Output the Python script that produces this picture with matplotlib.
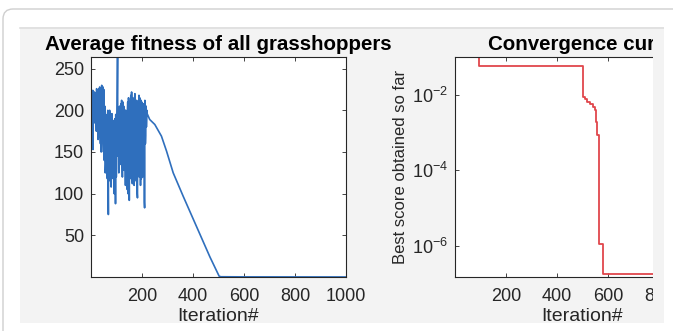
import matplotlib
matplotlib.use("Agg")
import matplotlib.pyplot as plt
import numpy as np
from matplotlib.patches import FancyBboxPatch, Rectangle
from matplotlib.ticker import NullLocator

plt.rcParams["font.family"] = ["Liberation Sans", "DejaVu Sans"]
plt.rcParams["mathtext.fontset"] = "custom"
plt.rcParams["mathtext.rm"] = "Liberation Sans"
plt.rcParams["mathtext.it"] = "Liberation Sans:italic"

W, H = 673, 331
AX_COLOR = "#262626"
BLUE = "#2f6fbd"
RED = "#e0474c"

# average fitness, noisy phase, odd iterations 1, 3, ... 221
fitness_odd = [
    125, 212, 198, 220, 153, 215, 205, 222, 196, 218, 190, 226, 180, 215, 165, 224,
    185, 228, 172, 221, 150, 230, 178, 219, 160, 225, 140, 205, 125, 195, 150, 190,
    118, 200, 75, 185, 130, 192, 115, 180, 140, 196, 122, 188, 135, 175, 110, 190,
    88, 182, 130, 200, 264, 145, 195, 150, 205, 135, 190, 160, 212, 140, 198, 155,
    205, 128, 190, 145, 200, 120, 185, 105, 210, 130, 195, 92, 205, 125, 218, 140,
    200, 112, 215, 150, 190, 120, 220, 135, 205, 115, 210, 95, 200, 140, 218, 130,
    205, 110, 212, 150, 200, 120, 208, 140, 205, 83, 210, 170, 205, 192, 196,
]
# even iterations 2, 4, ... 220
fitness_even = [
    205, 218, 190, 224, 200, 212, 185, 221, 198, 215,
    175, 222, 195, 210, 170, 226, 188, 218, 160, 225,
    190, 215, 168, 228, 150, 210, 182, 200, 135, 185,
    165, 140, 195, 110, 180, 125, 200, 150, 172, 108,
    190, 145, 170, 118, 185, 100, 178, 150, 195, 120,
    180, 240, 160, 200, 125, 190, 170, 140, 208, 150,
    195, 120, 210, 165, 185, 135, 200, 110, 190, 150,
    125, 200, 100, 215, 140, 190, 118, 210, 150, 222,
    130, 205, 160, 185, 110, 215, 140, 200, 125, 212,
    100, 205, 150, 195, 120, 215, 145, 200, 118, 210,
    135, 205, 150, 198, 90, 212, 160, 205, 180, 200,
]

# average fitness, smooth decline afterwards
smooth_iters = [231, 251, 277, 297, 323, 362, 414, 467, 503, 510, 600, 1000]
smooth_fitness = [189, 183, 169, 151, 125, 97, 61, 24, 1.0, 0.3, 0.15, 0.05]

# best score so far (value holds from that iteration on)
conv_iters = [1, 94, 501, 504, 510, 520, 530, 541, 549, 555, 559, 565, 580, 1000]
conv_best = [0.1, 0.0586, 0.022, 0.0088, 0.0075, 0.0065, 0.0056, 0.0048, 0.0040,
             0.0019, 8.7e-4, 1.15e-6, 1.8e-7, 1.8e-7]

noisy_iters = np.concatenate([np.arange(1, 2 * len(fitness_odd), 2),
                              np.arange(2, 2 * len(fitness_even) + 1, 2)])
noisy_values = np.concatenate([fitness_odd, fitness_even])
order = np.argsort(noisy_iters)
fit_iters = np.concatenate([noisy_iters[order], smooth_iters])
fit_values = np.concatenate([noisy_values[order], smooth_fitness])


def px_box(x0, y0, x1, y1):
    return [x0 / W, 1 - y1 / H, (x1 - x0) / W, (y1 - y0) / H]


def style_axes(ax):
    ax.set_facecolor("white")
    for sp in ax.spines.values():
        sp.set_color(AX_COLOR)
        sp.set_linewidth(0.8)
    ax.tick_params(direction="in", length=3, width=0.6, top=True, right=True,
                   colors=AX_COLOR, labelsize=13, labelcolor=AX_COLOR)
    ax.tick_params(axis="x", pad=8)
    ax.tick_params(axis="y", pad=5)


fig = plt.figure(figsize=(W / 100, H / 100), dpi=100)
fig.patch.set_facecolor("white")

# card and grey figure area behind everything
bg = fig.add_axes([0, 0, 1, 1], zorder=-5)
bg.set_xlim(0, W)
bg.set_ylim(H, 0)
bg.axis("off")
bg.add_patch(FancyBboxPatch((3, 9), 720, 400, boxstyle="round,pad=0,rounding_size=10",
                            facecolor="white", edgecolor="#cfcfcf", lw=1.0))
bg.add_patch(Rectangle((20, 27), 644, 296, facecolor="#f3f3f3", edgecolor="none"))
bg.plot([20, 664], [27.5, 27.5], color="#dedede", lw=1.2)

# left: average fitness
ax1 = fig.add_axes(px_box(91, 57, 346, 277))
style_axes(ax1)
ax1.plot(fit_iters, fit_values, color=BLUE, lw=1.2)
ax1.set_xlim(1, 1000)
ax1.set_ylim(0, 264)
ax1.set_xticks([200, 400, 600, 800, 1000])
ax1.set_yticks([50, 100, 150, 200, 250])
ax1.set_title("Average fitness of all grasshoppers", fontsize=14.8, fontweight="bold",
              color="black", pad=5)
ax1.set_xlabel("Iteration#", fontsize=14, color=AX_COLOR, labelpad=2)

# right: convergence curve (cut off by the screenshot)
ax2 = fig.add_axes(px_box(455, 57, 710, 277))
style_axes(ax2)
ax2.semilogy(conv_iters, conv_best, color=RED, lw=1.3, drawstyle="steps-post")
ax2.set_xlim(1, 1000)
ax2.set_ylim(1.5e-7, 0.1)
ax2.set_xticks([200, 400, 600, 800])
ax2.set_yticks([1e-2, 1e-4, 1e-6])
ax2.yaxis.set_minor_locator(NullLocator())
ax2.set_title("Convergence curve", fontsize=14.8, fontweight="bold", color="black", pad=5)
ax2.set_xlabel("Iteration#", fontsize=14, color=AX_COLOR, labelpad=2)
ax2.set_ylabel("Best score obtained so far", fontsize=12, color=AX_COLOR, labelpad=3)

# mask where the screenshot was cropped
top = fig.add_axes([0, 0, 1, 1], zorder=20)
top.set_xlim(0, W)
top.set_ylim(H, 0)
top.axis("off")
top.patch.set_alpha(0)
top.add_patch(Rectangle((653, 28.5), 11, 294.5, facecolor="#f3f3f3", edgecolor="none"))
top.add_patch(Rectangle((664, 26), 20, 310, facecolor="white", edgecolor="none"))

fig.savefig("out.png", dpi=100)
